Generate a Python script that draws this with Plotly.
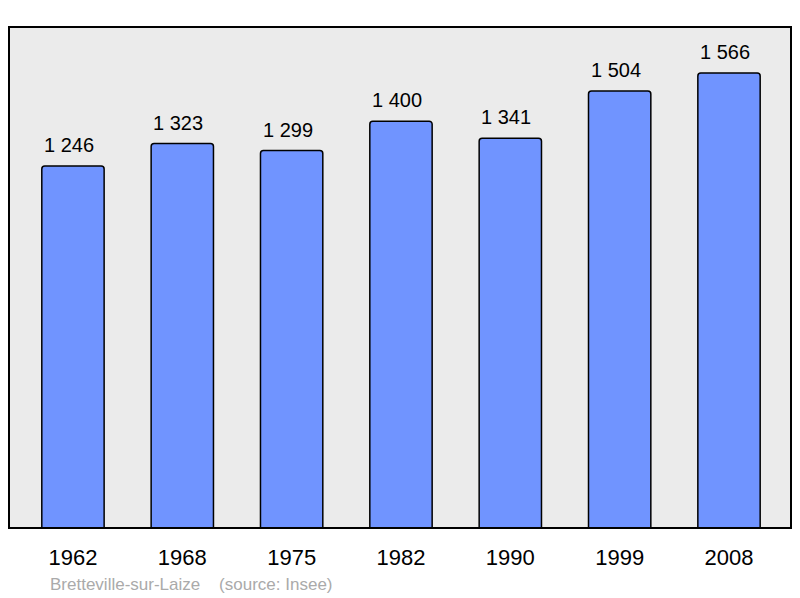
import plotly.graph_objects as go

years = ["1962", "1968", "1975", "1982", "1990", "1999", "2008"]
population = [1246, 1323, 1299, 1400, 1341, 1504, 1566]
labels = ["1 246", "1 323", "1 299", "1 400", "1 341", "1 504", "1 566"]

fig = go.Figure()
fig.add_trace(go.Bar(
    x=list(range(len(years))), y=population,
    width=0.57,
    marker=dict(color="#7094FF", line=dict(color="#000000", width=1.5), cornerradius=3),
    hoverinfo="skip",
))

for i, (v, t) in enumerate(zip(population, labels)):
    fig.add_annotation(x=i, y=v, text=t, showarrow=False, xref="x", yref="y",
                       yanchor="bottom", yshift=8, xshift=-4,
                       font=dict(family="Liberation Sans, Arial", size=20, color="#000000"))

fig.add_annotation(xref="paper", yref="paper", x=(48 - 9) / 782, y=-(584 - 528) / 501,
                   xanchor="left", yanchor="middle", showarrow=False,
                   text="Bretteville-sur-Laize    (source: Insee)",
                   font=dict(family="Liberation Sans, Arial", size=17, color="#AAAAAA"))

fig.add_shape(type="rect", xref="paper", yref="paper", x0=0, x1=1, y0=0, y1=1,
              line=dict(color="#000000", width=2), layer="above")

fig.update_layout(
    width=800, height=598,
    margin=dict(l=9, r=9, t=27, b=70),
    paper_bgcolor="#FFFFFF", plot_bgcolor="#EBEBEB",
    showlegend=False,
    xaxis=dict(range=[-0.585, 6.567], tickvals=list(range(len(years))), ticktext=years,
               showgrid=False, zeroline=False, ticks="outside", ticklen=10,
               tickcolor="rgba(0,0,0,0)", fixedrange=True,
               tickfont=dict(family="Liberation Sans, Arial", size=22, color="#000000")),
    yaxis=dict(range=[0, 1724], showgrid=False, zeroline=False, showticklabels=False,
               fixedrange=True),
)

fig.write_html("out.html", config={"displayModeBar": False},
               post_script="document.body.style.margin='0';")
